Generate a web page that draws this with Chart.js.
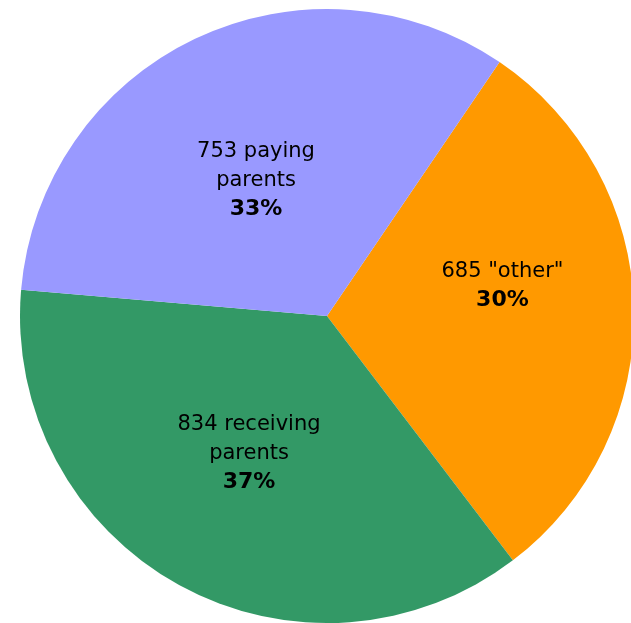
<!DOCTYPE html>
<html>
<head>
<meta charset="utf-8">
<script src="https://cdn.jsdelivr.net/npm/chart.js@4/dist/chart.umd.min.js"></script>
<style>
    html, body { margin: 0; padding: 0; background: #fff; overflow: hidden; }
    #wrap { width: 654px; height: 632px; }
</style>
</head>
<body>
<div id="wrap"><canvas id="parentsPie" width="654" height="632"></canvas></div>
<script>
// 分组名称与人数（顺时针，从右上方开始）
const categories = ['"other"', 'receiving parents', 'paying parents'];
const counts = [685, 834, 753];
const sliceColors = ['#ff9900', '#339966', '#9999ff'];

const total = counts.reduce((a, b) => a + b, 0);

// 扇区内文字：第一行“人数 + 首词”，其余词另起一行，最后一行为加粗的百分比
const labelFont = "'DejaVu Sans', Verdana, sans-serif";
const labelOffsets = [[22, -26], [-4, 3], [-5, 3]];

const sliceLabels = {
    id: 'sliceLabels',
    afterDatasetsDraw(chart) {
        const ctx = chart.ctx;
        const meta = chart.getDatasetMeta(0);
        const lineH = 28.5;
        ctx.save();
        ctx.fillStyle = '#000';
        ctx.textAlign = 'center';
        ctx.textBaseline = 'middle';
        meta.data.forEach((arc, i) => {
            const p = arc.getProps(['x', 'y', 'startAngle', 'endAngle', 'outerRadius'], true);
            const mid = (p.startAngle + p.endAngle) / 2;
            const r = p.outerRadius * 0.5;
            const cx = p.x + Math.cos(mid) * r + labelOffsets[i][0];
            const cy = p.y + Math.sin(mid) * r + labelOffsets[i][1];

            const words = categories[i].split(' ');
            const lines = [counts[i] + ' ' + words[0]];
            if (words.length > 1) lines.push(words.slice(1).join(' '));
            const pct = Math.round(counts[i] / total * 100) + '%';
            const all = lines.concat([pct]);

            const top = cy - (all.length - 1) * lineH / 2;
            all.forEach((txt, j) => {
                const bold = j === all.length - 1;
                ctx.font = bold ? 'bold 22px ' + labelFont : '21px ' + labelFont;
                ctx.fillText(txt, cx, top + j * lineH);
            });
        });
        ctx.restore();
    }
};

const ctx = document.getElementById('parentsPie').getContext('2d');
new Chart(ctx, {
    type: 'pie',
    data: {
        labels: categories,
        datasets: [{
            data: counts,
            backgroundColor: sliceColors,
            borderWidth: 0
        }]
    },
    options: {
        responsive: false,
        animation: false,
        devicePixelRatio: 1,
        rotation: 34.2,
        layout: { padding: 9 },
        plugins: {
            legend: { display: false },
            tooltip: { enabled: false }
        }
    },
    plugins: [sliceLabels]
});
</script>
</body>
</html>
